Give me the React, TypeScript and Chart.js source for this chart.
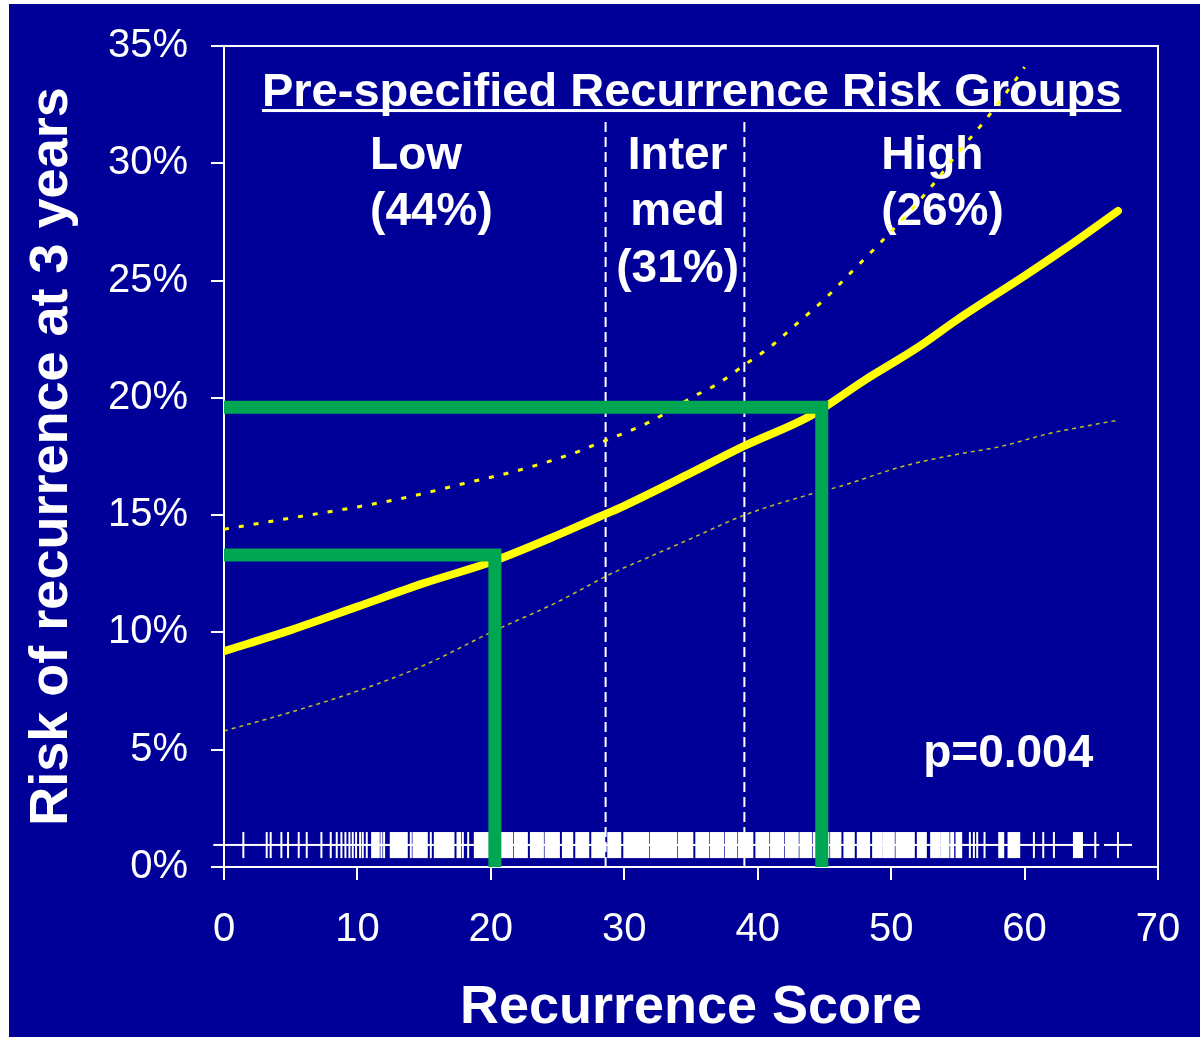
import React, { useEffect, useRef } from 'react';
import { Chart, registerables } from 'chart.js';

Chart.register(...registerables);

// Fitted 3-year recurrence risk (%) against Recurrence Score
const curveScores = [0, 5, 10, 15, 20, 25, 28, 30, 35, 39, 44, 48, 52, 55, 60, 63, 67];
const curveRisk = [9.2, 10.1, 11.1, 12.1, 13.0, 14.15, 14.9, 15.4, 16.8, 17.95, 19.25, 20.75, 22.15, 23.35, 25.2, 26.35, 27.97];

// Upper 95% confidence limit
const upperScores = [0, 6, 10, 14, 18, 22, 26, 28, 30, 32, 35, 37, 39, 41, 43, 45, 47, 49, 51, 53, 55, 57, 59, 60];
const upperRisk = [14.4, 14.97, 15.35, 15.8, 16.35, 16.9, 17.6, 18.05, 18.5, 19.0, 20.0, 20.6, 21.4, 22.2, 23.2, 24.2, 25.35, 26.5, 27.7, 29.0, 30.45, 31.8, 33.3, 34.1];

// Lower 95% confidence limit
const lowerScores = [0, 5, 10, 15, 20, 25, 29, 32, 35, 39, 44, 46, 51, 55, 58, 62, 67];
const lowerRisk = [5.8, 6.6, 7.5, 8.6, 10.0, 11.3, 12.5, 13.25, 14.0, 15.0, 15.9, 16.2, 17.1, 17.6, 17.9, 18.5, 19.05];

// Risk group cut-offs on the score axis
const groupCutoffs = [28.6, 39.0];
const cutoffTop = 31.8;

// Highlighted readings: score -> risk
const markerScores = [20.3, 44.8];
const markerRisks = [13.3, 19.6];

// Group labels and share of patients
const groupNames = [['Low'], ['Inter', 'med'], ['High']];
const groupShares = [44, 31, 26];
const pValueText = 'p=0.004';
const panelTitle = 'Pre-specified Recurrence Risk Groups';

// Individual patient scores (rug) and dense runs of scores
const rugTicks = [1.45, 3.2, 3.5, 4.3, 4.8, 5.6, 6.2, 7.3, 8.0, 8.45, 8.8, 9.1, 9.4, 9.65, 9.9, 10.2, 10.4, 10.7, 11.8, 12.0, 14.0, 15.5, 17.9, 18.3, 55.9, 56.2, 56.45, 57.0, 60.7, 61.4, 62.2, 65.3];
const rugRuns: [number, number][] = [
  [11.1, 11.6], [12.5, 13.7], [14.2, 15.2], [15.8, 17.2], [17.5, 17.7], [18.8, 21.6], [21.8, 22.7],
  [23.0, 23.9], [24.1, 25.1], [25.4, 26.1], [26.4, 27.3], [27.6, 28.5], [28.8, 29.7], [30.0, 31.8],
  [32.0, 33.9], [34.1, 35.1], [35.4, 36.3], [36.5, 37.4], [37.6, 38.4], [38.6, 39.6], [39.9, 40.8],
  [41.0, 41.9], [42.1, 43.0], [43.2, 44.0], [44.2, 45.3], [45.5, 46.2], [46.5, 47.2], [47.5, 48.35],
  [48.65, 49.25], [49.4, 50.2], [50.4, 51.7], [52.0, 52.6], [53.0, 53.6], [53.75, 54.3], [54.5, 54.65],
  [54.9, 55.25], [58.1, 58.4], [58.8, 59.6], [63.7, 64.3],
];
const rugLineRange = [-0.8, 65.6];
const rugEndTick = 67;

const BLUE = '#000099';
const YELLOW = '#ffff00';
const GREEN = '#00a651';
const FONT = '"Liberation Sans", Arial, Helvetica, sans-serif';

const pts = (xs: number[], ys: number[]) => xs.map((x, i) => ({ x, y: ys[i] }));

const backgroundPlugin = {
  id: 'slideBackground',
  beforeDraw(chart: any) {
    const { ctx, width, height } = chart;
    ctx.save();
    ctx.fillStyle = '#ffffff';
    ctx.fillRect(0, 0, width, height);
    ctx.fillStyle = BLUE;
    ctx.fillRect(9, 4, width - 9, height - 4);
    ctx.restore();
  },
};

const panelPlugin = {
  id: 'panel',
  beforeDatasetsDraw(chart: any) {
    const { ctx, chartArea: a, scales } = chart;
    const xs = scales.x;
    const ys = scales.y;
    ctx.save();

    // plot frame
    ctx.strokeStyle = '#ffffff';
    ctx.lineWidth = 2;
    ctx.strokeRect(a.left, a.top, a.right - a.left, a.bottom - a.top);

    // rug of patient scores
    const yTop = ys.getPixelForValue(1.49);
    const yBot = ys.getPixelForValue(0.38);
    const yMid = ys.getPixelForValue(0.94);
    ctx.fillStyle = '#ffffff';
    ctx.fillRect(xs.getPixelForValue(rugLineRange[0]), yMid - 1, xs.getPixelForValue(rugLineRange[1]) - xs.getPixelForValue(rugLineRange[0]), 2);
    rugTicks.forEach((s) => {
      const px = xs.getPixelForValue(s);
      ctx.fillRect(px - 1, yTop, 2, yBot - yTop);
    });
    rugRuns.forEach(([s0, s1]) => {
      const p0 = xs.getPixelForValue(s0);
      const p1 = xs.getPixelForValue(s1);
      ctx.fillRect(p0 - 1, yTop, p1 - p0 + 2, yBot - yTop);
    });
    const pe = xs.getPixelForValue(rugEndTick);
    ctx.fillRect(pe - 14, yMid - 1, 28, 2);
    ctx.fillRect(pe - 1, yTop, 2, yBot - yTop);

    // panel title, underlined
    ctx.fillStyle = '#ffffff';
    ctx.font = `bold 47px ${FONT}`;
    ctx.textAlign = 'center';
    ctx.textBaseline = 'alphabetic';
    const tx = xs.getPixelForValue(35.05);
    const ty = ys.getPixelForValue(32.44);
    ctx.fillText(panelTitle, tx, ty);
    const tw = ctx.measureText(panelTitle).width;
    ctx.fillRect(tx - tw / 2, ty + 3, tw, 3);

    // group labels
    ctx.font = `bold 46px ${FONT}`;
    const anchors = [
      { s: 10.95, align: 'left' },
      { s: 34.0, align: 'center' },
      { s: 49.25, align: 'left' },
    ];
    groupNames.forEach((name, i) => {
      const lines = [...name, `(${groupShares[i]}%)`];
      ctx.textAlign = anchors[i].align;
      const x0 = xs.getPixelForValue(anchors[i].s);
      const y0 = ys.getPixelForValue(29.77);
      lines.forEach((t, j) => ctx.fillText(t, x0, y0 + j * 56.5));
    });

    // p-value
    ctx.textAlign = 'left';
    ctx.fillText(pValueText, xs.getPixelForValue(52.4), ys.getPixelForValue(4.26));
    ctx.restore();
  },
};

export default function App() {
  const ref = useRef<HTMLCanvasElement>(null);

  useEffect(() => {
    const canvas = ref.current;
    if (!canvas) return;
    document.body.style.margin = '0';

    const chart = new Chart(canvas, {
      type: 'line',
      data: {
        datasets: [
          {
            label: 'reading low',
            data: [
              { x: 0, y: markerRisks[0] },
              { x: markerScores[0], y: markerRisks[0] },
              { x: markerScores[0], y: 0 },
            ],
            borderColor: GREEN,
            borderWidth: 13,
            borderJoinStyle: 'miter',
            borderCapStyle: 'butt',
            pointRadius: 0,
            tension: 0,
          },
          {
            label: 'reading high',
            data: [
              { x: 0, y: markerRisks[1] },
              { x: markerScores[1], y: markerRisks[1] },
              { x: markerScores[1], y: 0 },
            ],
            borderColor: GREEN,
            borderWidth: 13,
            borderJoinStyle: 'miter',
            borderCapStyle: 'butt',
            pointRadius: 0,
            tension: 0,
          },
          {
            label: 'risk',
            data: pts(curveScores, curveRisk),
            borderColor: YELLOW,
            borderWidth: 8,
            borderCapStyle: 'round',
            pointRadius: 0,
            cubicInterpolationMode: 'monotone',
          },
          {
            label: 'upper limit',
            data: pts(upperScores, upperRisk),
            borderColor: YELLOW,
            borderWidth: 3,
            borderDash: [5, 10],
            pointRadius: 0,
            cubicInterpolationMode: 'monotone',
          },
          {
            label: 'lower limit',
            data: pts(lowerScores, lowerRisk),
            borderColor: 'rgba(255,255,0,0.75)',
            borderWidth: 1.5,
            borderDash: [4, 4],
            pointRadius: 0,
            cubicInterpolationMode: 'monotone',
          },
          ...groupCutoffs.map((c, i) => ({
            label: `cutoff ${i + 1}`,
            data: [
              { x: c, y: 0 },
              { x: c, y: cutoffTop },
            ],
            borderColor: '#ffffff',
            borderWidth: 2,
            borderDash: [10, 5],
            pointRadius: 0,
          })),
        ],
      },
      options: {
        responsive: false,
        animation: false,
        devicePixelRatio: 1,
        layout: { padding: { left: 9, top: 46, right: 42, bottom: 0 } },
        plugins: {
          legend: { display: false },
          tooltip: { enabled: false },
        },
        scales: {
          x: {
            type: 'linear',
            min: 0,
            max: 70,
            afterFit: (scale: any) => {
              scale.height = 170;
              scale.paddingLeft = 0;
              scale.paddingRight = 0;
            },
            ticks: {
              stepSize: 10,
              color: '#ffffff',
              padding: 26,
              font: { family: FONT, size: 40 },
            },
            grid: {
              display: true,
              drawOnChartArea: false,
              drawTicks: true,
              tickLength: 13,
              color: '#ffffff',
              lineWidth: 2,
            },
            border: { display: true, color: '#ffffff', width: 2 },
            title: {
              display: true,
              text: 'Recurrence Score',
              color: '#ffffff',
              font: { family: FONT, size: 54, weight: 'bold', lineHeight: 1 },
              padding: { top: 0, bottom: 2 },
            },
          },
          y: {
            type: 'linear',
            min: 0,
            max: 35,
            afterFit: (scale: any) => {
              scale.width = 215;
              scale.paddingTop = 0;
              scale.paddingBottom = 0;
            },
            ticks: {
              stepSize: 5,
              color: '#ffffff',
              padding: 23,
              font: { family: FONT, size: 40 },
              callback: (v: any) => `${v}%`,
            },
            grid: {
              display: true,
              drawOnChartArea: false,
              drawTicks: true,
              tickLength: 13,
              color: '#ffffff',
              lineWidth: 2,
            },
            border: { display: true, color: '#ffffff', width: 2 },
            title: {
              display: true,
              text: 'Risk of recurrence at 3 years',
              color: '#ffffff',
              font: { family: FONT, size: 54, weight: 'bold', lineHeight: 1 },
              padding: { top: 16, bottom: 0 },
            },
          },
        },
      },
      plugins: [backgroundPlugin, panelPlugin],
    } as any);

    return () => chart.destroy();
  }, []);

  return (
    <div style={{ position: 'fixed', left: 0, top: 0, width: 1200, height: 1037 }}>
      <canvas ref={ref} width={1200} height={1037} style={{ display: 'block' }} />
    </div>
  );
}
